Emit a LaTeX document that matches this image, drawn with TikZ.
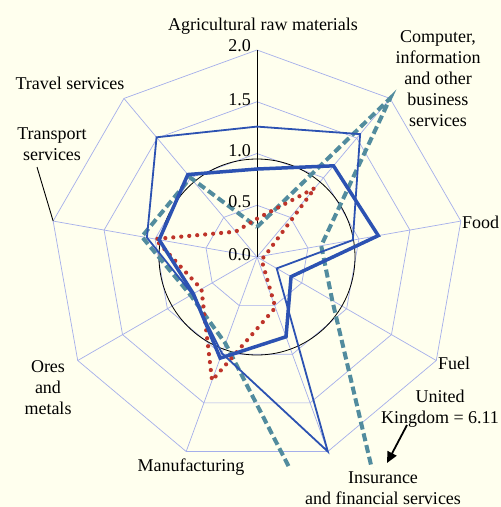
\documentclass[tikz,border=0pt]{standalone}
\usepackage{fontspec}
\setmainfont{Liberation Serif}
\usetikzlibrary{arrows.meta}
\definecolor{bg}{RGB}{255,255,238}
\definecolor{gridc}{RGB}{165,175,235}
\definecolor{serblue}{RGB}{44,82,178}
\definecolor{tealc}{RGB}{82,140,158}
\definecolor{redc}{RGB}{190,52,42}
\begin{document}
\begin{tikzpicture}[x=1pt,y=1pt,
  gridline/.style={gridc, line width=0.7pt},
  lab/.style={font=\fontsize{18}{21}\selectfont, inner sep=0pt, align=center},
  tick/.style={font=\fontsize{18}{21}\selectfont, inner sep=0pt, anchor=east},
  ukser/.style={serblue, line width=1.8pt, line join=miter},
  thickser/.style={serblue, line width=3.5pt, line join=miter},
  tealser/.style={tealc, line width=4pt, dash pattern=on 8pt off 4pt},
  redser/.style={redc, line width=4.2pt, line cap=round, dash pattern=on 0pt off 8pt}]
\fill[bg] (0,0) rectangle (501,-507);
\useasboundingbox (0,0) rectangle (501,-507);
\begin{scope}[shift={(257,-257)}]
  % grid polygons
  \foreach \r in {0.5,1,1.5,2} {
    \draw[gridline] (90:{\r*103.5}) \foreach \i in {1,...,8} { -- ({90-40*\i}:{\r*103.5}) } -- cycle;
  }
  \foreach \i in {0,...,8} {
    \coordinate (v\i) at ({90-40*\i}:207);
    \draw[gridline] (0,0) -- (v\i);
  }
  \coordinate (c0) at (0,0);
  \draw[black, line width=0.8pt] (c0) circle (98);
  \draw[black, line width=0.9pt] (c0) -- (v0);
  % series points
  \foreach \v [count=\i from 0] in {1.26,1.55,0.94,0.22,2.0,0.99,0.72,1.08,1.51}
    { \coordinate (uk\i) at ({90-40*\i}:{\v*103.5}); }
  \foreach \v [count=\i from 0] in {0.85,1.15,1.19,0.38,0.82,1.04,0.71,0.96,1.04}
    { \coordinate (tk\i) at ({90-40*\i}:{\v*103.5}); }
  \foreach \v [count=\i from 0] in {0.29,2.0,0.63,0.84,5.2,0.89,0.74,1.13,1.0}
    { \coordinate (te\i) at ({90-40*\i}:{\v*103.5}); }
  \foreach \v [count=\i from 0] in {0.37,0.87,0.08,0.05,0.52,1.27,0.62,1.0,0.32}
    { \coordinate (rd\i) at ({90-40*\i}:{\v*103.5}); }
\end{scope}
\begin{scope}
  \clip (0,0) rectangle (501,-467);
  \draw[tealser] (te0) -- (te1) -- (te2) -- (te3) -- (te4) -- (te5) -- (te6) -- (te7) -- (te8) -- cycle;
\end{scope}
\draw[redser] (rd0) -- (rd1) -- (rd2) -- (rd3) -- (rd4) -- (rd5) -- (rd6) -- (rd7) -- (rd8) -- cycle;
\draw[thickser] (tk0) -- (tk1) -- (tk2) -- (tk3) -- (tk4) -- (tk5) -- (tk6) -- (tk7) -- (tk8) -- cycle;
\draw[ukser] (uk0) -- (uk1) -- (uk2) -- (uk3) -- (uk4) -- (uk5) -- (uk6) -- (uk7) -- (uk8) -- cycle;
% tick labels
\node[tick] (t20) at (251,-46) {2.0};
\node[tick] (t15) at (251,-100) {1.5};
\node[tick] (t10) at (251,-151) {1.0};
\node[tick] (t05) at (251,-202) {0.5};
\node[tick] (t00) at (251,-255) {0.0};
% axis labels
\node[lab] (lagri) at (263,-26) {Agricultural raw materials};
\node[lab] (lcomp) at (438,-79) {Computer,\\information\\and other\\business\\services};
\node[lab, anchor=west] (lfood) at (462,-222) {Food};
\node[lab, anchor=west] (lfuel) at (438,-363) {Fuel};
\node[lab] (luk) at (440,-409) {United\\Kingdom = 6.11};
\node[lab] (lins) at (383,-488) {Insurance\\and financial services};
\node[lab] (lman) at (191,-467) {Manufacturing};
\node[lab] (lores) at (48,-388) {Ores\\and\\metals};
\node[lab] (ltrans) at (52,-144) {Transport\\services};
\node[lab] (ltrav) at (70,-83) {Travel services};
% arrow and leader
\coordinate (a1) at (407,-425);
\coordinate (a2) at (387,-463);
\draw[black, line width=1.8pt, -{Triangle[length=11pt,width=10pt]}] (a1) -- (a2);
\coordinate (ld) at (37,-167);
\draw[black, line width=0.9pt] (ld) -- (v7);
\end{tikzpicture}
\end{document}
